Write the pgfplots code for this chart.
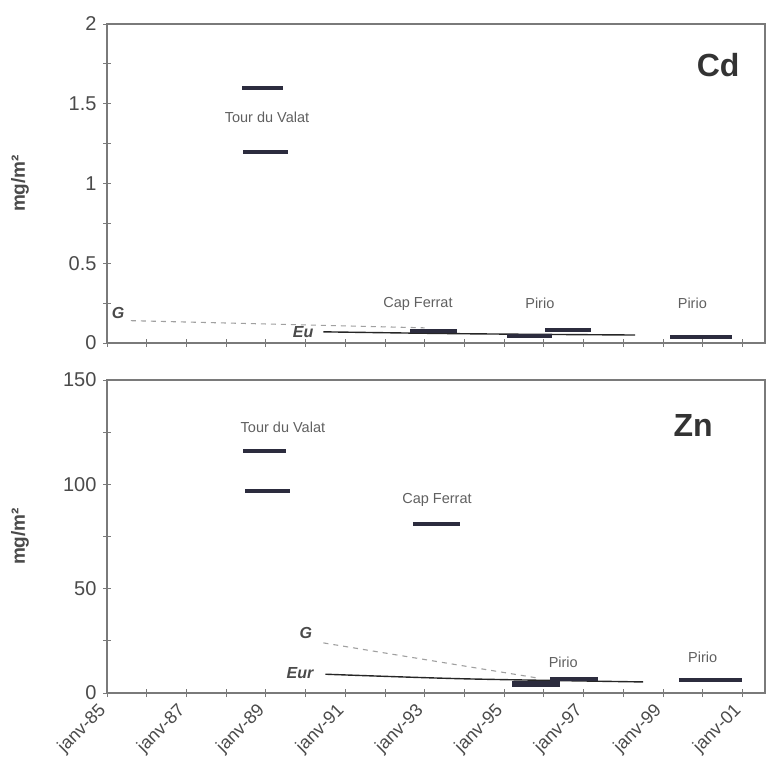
\documentclass[border=0pt]{standalone}
\usepackage{fontspec}
\setmainfont{Liberation Sans}
\usepackage{pgfplots}
\pgfplotsset{compat=1.18}
\definecolor{axgray}{HTML}{7A7A7A}
\definecolor{txt}{HTML}{4A4A4A}
\definecolor{lbl}{HTML}{606060}
\definecolor{barc}{HTML}{2C2C3E}
\definecolor{dashc}{HTML}{A0A0A0}
\tikzset{
  annot/.style={font=\fontsize{14.5bp}{17bp}\selectfont, text=lbl},
  ser/.style={font=\fontsize{16bp}{19bp}\selectfont\bfseries\itshape, text=txt},
  bar/.style={barc, line width=4bp, line cap=butt},
}
\begin{document}
\begin{tikzpicture}
\useasboundingbox (-107bp,-83bp) rectangle (662bp,693bp);
\pgfplotsset{
  panel/.style={
    scale only axis, width=658bp,
    xmin=1985, xmax=2001.57,
    axis line style={axgray, line width=1.1bp},
    every tick/.style={axgray, line width=0.8bp},
    tick align=center, major tick length=8bp, minor tick length=8bp,
    xtick pos=bottom, ytick pos=left,
    xtick={1985,1987,...,2001}, minor xtick={1986,1988,...,2000},
    /pgf/number format/assume math mode=true,
    yticklabel style={font=\fontsize{20bp}{24bp}\selectfont, text=txt, xshift=-3bp},
    clip=false,
  },
}
% ---------------- Cd ----------------
\begin{axis}[panel, at={(0bp,350bp)}, anchor=south west, height=319bp,
  ymin=0, ymax=2,
  ytick={0,0.5,1,1.5,2}, yticklabels={0,0.5,1,1.5,2},
  minor ytick={0.25,0.75,1.25,1.75},
  xticklabels={}]
\addplot[dashc, line width=1.1bp, dash pattern=on 5bp off 5bp] coordinates {(1985.6,0.14) (1993.0,0.095)};
\addplot[black!85, line width=1.4bp, smooth] coordinates {(1990.45,0.07) (1994.0,0.058) (1998.3,0.05)};
\addplot[bar] coordinates {(1988.40,1.6) (1989.43,1.6)};
\addplot[bar] coordinates {(1988.43,1.2) (1989.56,1.2)};
\addplot[bar] coordinates {(1992.63,0.075) (1993.82,0.075)};
\addplot[bar] coordinates {(1995.08,0.044) (1996.20,0.044)};
\addplot[bar] coordinates {(1996.03,0.080) (1997.20,0.080)};
\addplot[bar] coordinates {(1999.18,0.040) (2000.74,0.040)};
\node[font=\fontsize{32bp}{36bp}\selectfont\bfseries, text=black!80] at (axis cs:2000.39,1.743) {Cd};
\node[annot] at (axis cs:1989.03,1.417) {Tour du Valat};
\node[annot] at (axis cs:1992.83,0.245) {Cap Ferrat};
\node[annot] at (axis cs:1995.9,0.25) {Pirio};
\node[annot] at (axis cs:1999.74,0.25) {Pirio};
\node[ser] at (axis cs:1985.28,0.19) {G};
\node[ser] at (axis cs:1989.94,0.07) {Eu};
\node[rotate=90, font=\fontsize{19bp}{22bp}\selectfont\bfseries, text=txt] at (rel axis cs:-0.1322,0.5) {mg/m²};
\end{axis}
% ---------------- Zn ----------------
\begin{axis}[panel, at={(0bp,0bp)}, anchor=south west, height=313bp,
  ymin=0, ymax=150,
  ytick={0,50,100,150}, minor ytick={25,75,125},
  xticklabels={janv-85,janv-87,janv-89,janv-91,janv-93,janv-95,janv-97,janv-99,janv-01},
  xticklabel style={font=\fontsize{18bp}{21bp}\selectfont, text=txt, rotate=45, anchor=east, xshift=-7bp, yshift=-5bp}]
\addplot[dashc, line width=1.1bp, dash pattern=on 5bp off 5bp] coordinates {(1990.45,24) (1995.9,7)};
\addplot[black!85, line width=1.4bp, smooth] coordinates {(1990.5,9.0) (1994.0,6.8) (1998.5,5.3)};
\addplot[bar] coordinates {(1988.43,116) (1989.50,116)};
\addplot[bar] coordinates {(1988.48,97) (1989.60,97)};
\addplot[bar] coordinates {(1992.70,81) (1993.90,81)};
\addplot[bar, line width=6bp] coordinates {(1995.20,4.5) (1996.40,4.5)};
\addplot[bar] coordinates {(1996.15,6.5) (1997.37,6.5)};
\addplot[bar] coordinates {(1999.40,6.0) (2001.00,6.0)};
\node[font=\fontsize{32bp}{36bp}\selectfont\bfseries, text=black!80] at (axis cs:1999.76,128.4) {Zn};
\node[annot] at (axis cs:1989.43,127.5) {Tour du Valat};
\node[annot] at (axis cs:1993.31,92.5) {Cap Ferrat};
\node[annot] at (axis cs:1996.49,14.9) {Pirio};
\node[annot] at (axis cs:2000.0,17.2) {Pirio};
\node[ser] at (axis cs:1990.01,28.7) {G};
\node[ser] at (axis cs:1989.86,9.6) {Eur};
\node[rotate=90, font=\fontsize{19bp}{22bp}\selectfont\bfseries, text=txt] at (rel axis cs:-0.1322,0.5) {mg/m²};
\end{axis}
\end{tikzpicture}
\end{document}
